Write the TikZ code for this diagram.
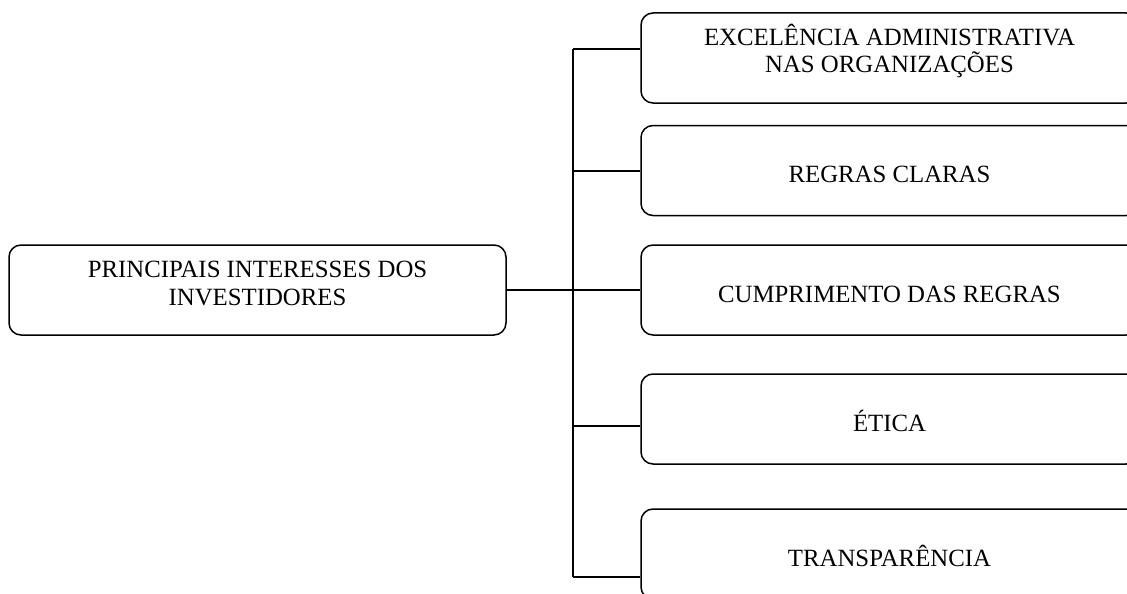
\documentclass[tikz,border=0pt]{standalone}
\usepackage{fontspec}
\setmainfont{Liberation Serif}
\begin{document}
\begin{tikzpicture}[x=1pt,y=-1pt,
  box/.style={draw, line width=1.5pt, rounded corners=12pt, minimum width=497pt, minimum height=90pt,
    inner sep=0pt, font=\fontsize{24.8}{28}\selectfont, align=center},
  one/.style={text height=24pt, text depth=0pt},
  two/.style={text height=36pt, text depth=6pt},
  link/.style={line width=1.5pt}]
\useasboundingbox (0,0) rectangle (1127,594);
\clip (0,0) rectangle (1127,594);
\node[box,two] (L) at (257.5,290) {PRINCIPAIS INTERESSES DOS\\INVESTIDORES};
\node[box,two] (b1) at (889.5,58) {EXCELÊNCIA ADMINISTRATIVA\\NAS ORGANIZAÇÕES};
\node[box,one] (b2) at (889.5,170.5) {REGRAS CLARAS};
\node[box,one] (b3) at (889.5,290) {CUMPRIMENTO DAS REGRAS};
\node[box,one] (b4) at (889.5,419) {ÉTICA};
\node[box,one] (b5) at (889.5,554) {TRANSPARÊNCIA};
\coordinate (t1) at (573,49);
\coordinate (t2) at (573,171);
\coordinate (t3) at (573,290);
\coordinate (t4) at (573,426);
\coordinate (t5) at (573,577);
\draw[link] (t1) -- (t5);
\draw[link] (L.east) -- (t3);
\draw[link] (t1) -- (b1.west |- t1);
\draw[link] (t2) -- (b2.west |- t2);
\draw[link] (t3) -- (b3.west |- t3);
\draw[link] (t4) -- (b4.west |- t4);
\draw[link] (t5) -- (b5.west |- t5);
\end{tikzpicture}
\end{document}
